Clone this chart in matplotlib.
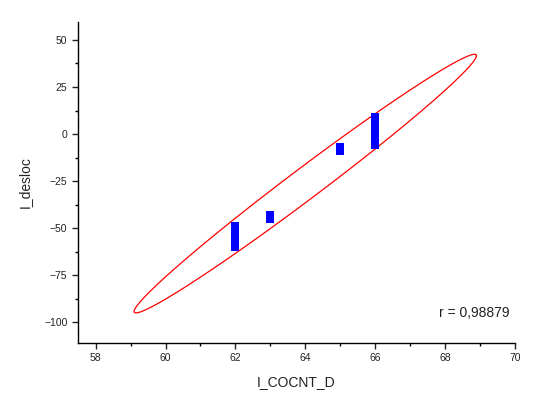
import numpy as np
import matplotlib
matplotlib.use("Agg")
import matplotlib.pyplot as plt

plt.rcParams['font.family'] = ['Liberation Sans', 'DejaVu Sans']

# data points (stacked square markers)
x_vals = [62, 62, 62, 62, 62, 62, 62, 63, 63, 65, 65, 66, 66, 66, 66, 66, 66, 66]
y_vals = [-49, -51, -53, -55, -57, -59, -60, -43, -45, -7, -9, 9, 6, 3, 0, -3, -5, -6]

# confidence ellipse parameters
mean_x, mean_y = 64.0, -26.3
half_x, half_y = 4.9, 68.7
r_val = 0.98879
r_label = "r = 0,98879"

fig = plt.figure(figsize=(5.33, 4.05), dpi=100)
ax = fig.add_axes([0.146, 0.153, 0.82, 0.793])

# ellipse from the correlation
t = np.linspace(0, 2 * np.pi, 400)
ex = mean_x + half_x * np.cos(t)
ey = mean_y + half_y * (r_val * np.cos(t) + np.sqrt(1 - r_val ** 2) * np.sin(t))
ax.plot(ex, ey, color='red', lw=0.9)

ax.plot(x_vals, y_vals, 's', color='blue', markersize=5.5, markeredgewidth=0)

ax.text(69.85, -95, r_label, ha='right', va='center', fontsize=10, color='#222222')

ax.set_xlim(57.49, 70)
ax.set_ylim(-111, 59.6)
ax.set_xticks([58, 60, 62, 64, 66, 68, 70])
ax.set_xticks(np.arange(59, 70, 2), minor=True)
ax.set_yticks([-100, -75, -50, -25, 0, 25, 50])
ax.set_yticks([-87.5, -62.5, -37.5, -12.5, 12.5, 37.5], minor=True)
ax.tick_params(axis='both', which='major', direction='out', length=4, width=1,
               labelsize=7.5, colors='#222222')
ax.tick_params(axis='both', which='minor', direction='out', length=2.5, width=1)
for s in ['top', 'right']:
    ax.spines[s].set_visible(False)
for s in ['left', 'bottom']:
    ax.spines[s].set_linewidth(1)

ax.set_xlabel("I_COCNT_D", fontsize=10, color='#222222', labelpad=8)
ax.set_ylabel("I_desloc", fontsize=10, color='#222222', labelpad=9)

fig.savefig("out.png", dpi=100)
